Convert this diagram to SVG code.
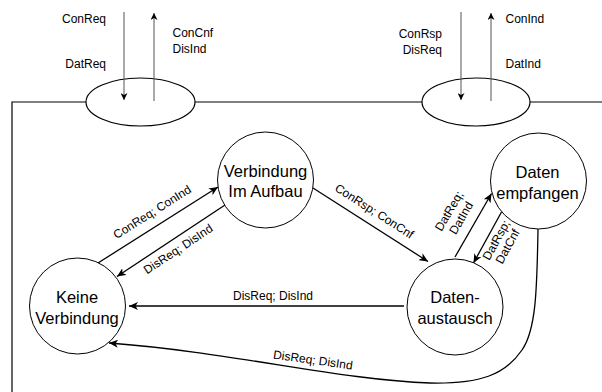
<svg xmlns="http://www.w3.org/2000/svg" width="602" height="392" viewBox="0 0 602 392">
  <defs>
    <marker id="arrow" markerUnits="userSpaceOnUse" markerWidth="10" markerHeight="8" refX="9" refY="4" orient="auto">
      <path d="M0,0 L9,4 L0,8 L2.5,4 Z" fill="#000"/>
    </marker>
    <marker id="arrowSmall" markerUnits="userSpaceOnUse" markerWidth="8" markerHeight="7" refX="7" refY="3.5" orient="auto">
      <path d="M0,0 L7,3.5 L0,7 L2,3.5 Z" fill="#000"/>
    </marker>
    <style>
      .frame { fill: none; stroke: #000; stroke-width: 1.2; }
      .sap { fill: #fff; stroke: #000; stroke-width: 1.2; }
      .prim { fill: none; stroke: #555; stroke-width: 1; marker-end: url(#arrowSmall); }
      .state { fill: #fff; stroke: #000; stroke-width: 1; }
      .edge { fill: none; stroke: #000; stroke-width: 1.3; marker-end: url(#arrow); }
      .lbl { font-family: "Liberation Sans", Arial, sans-serif; font-size: 12px; fill: #000; }
      .name { font-family: "Liberation Sans", Arial, sans-serif; font-size: 16.5px; fill: #000; text-anchor: middle; }
      .mid { text-anchor: middle; }
      .end { text-anchor: end; }
    </style>
  </defs>

  <!-- service boundary with the two access points -->
  <g id="boundary">
    <path class="frame" d="M12,392 L12,102 L602,102"/>
    <ellipse class="sap" cx="140.5" cy="102" rx="54.5" ry="24"/>
    <ellipse class="sap" cx="476" cy="102" rx="54" ry="24"/>
  </g>

  <!-- service primitives crossing the upper interface -->
  <g id="primitives">
    <line class="prim" x1="124" y1="12" x2="124" y2="100"/>
    <line class="prim" x1="154" y1="101" x2="154" y2="13"/>
    <line class="prim" x1="461" y1="12" x2="461" y2="100"/>
    <line class="prim" x1="491" y1="101" x2="491" y2="13"/>
    <text class="lbl end" x="106" y="22.5">ConReq</text>
    <text class="lbl end" x="106" y="68">DatReq</text>
    <text class="lbl" x="172.5" y="37">ConCnf</text>
    <text class="lbl" x="172.5" y="53">DisInd</text>
    <text class="lbl end" x="442" y="38">ConRsp</text>
    <text class="lbl end" x="442" y="53.5">DisReq</text>
    <text class="lbl" x="505.5" y="22.5">ConInd</text>
    <text class="lbl" x="505.5" y="68">DatInd</text>
  </g>

  <!-- transitions -->
  <g id="connectors">
    <path class="edge" d="M98,263 L218,187"/>
    <path class="edge" d="M225,205 L117,276.5"/>
    <path class="edge" d="M313,188 L428,261.5"/>
    <path class="edge" d="M455,257 L491.5,193.5"/>
    <path class="edge" d="M501.5,212 L473.5,263"/>
    <path class="edge" d="M404,306 L129,306"/>
    <path class="edge" d="M538,229 C537,290 536,330 522,350 C505,375 480,384 430,383 C340,380 230,352 109,343"/>

    <text class="lbl mid" transform="translate(159.7,223.9) rotate(-32.3)" x="0" y="-10">ConReq; ConInd</text>
    <text class="lbl mid" transform="translate(172.1,240) rotate(-33.5)" x="0" y="15">DisReq; DisInd</text>
    <text class="lbl mid" transform="translate(367.1,222.6) rotate(32.6)" x="0" y="-9.5">ConRsp; ConCnf</text>
    <g transform="translate(473.3,225.1) rotate(-59.9)">
      <text class="lbl mid" x="0" y="-24">DatReq;</text>
      <text class="lbl mid" x="0" y="-10">DatInd</text>
    </g>
    <g transform="translate(488.4,235.8) rotate(-61.2)">
      <text class="lbl mid" x="0" y="13">DatRsp;</text>
      <text class="lbl mid" x="0" y="26">DatCnf</text>
    </g>
    <text class="lbl mid" x="273" y="300">DisReq; DisInd</text>
    <text class="lbl mid" transform="translate(312.4,364) rotate(8)" x="0" y="0">DisReq; DisInd</text>
  </g>

  <!-- states -->
  <g id="keine-verbindung">
    <circle class="state" cx="77.5" cy="306" r="48"/>
    <text class="name" x="77" y="303">Keine</text>
    <text class="name" x="77" y="323.5">Verbindung</text>
  </g>
  <g id="verbindung-im-aufbau">
    <circle class="state" cx="265.5" cy="180" r="48"/>
    <text class="name" x="265.5" y="177">Verbindung</text>
    <text class="name" x="265.5" y="197">Im Aufbau</text>
  </g>
  <g id="datenaustausch">
    <circle class="state" cx="455" cy="307" r="48"/>
    <text class="name" x="455" y="303">Daten-</text>
    <text class="name" x="455" y="323.5">austausch</text>
  </g>
  <g id="daten-empfangen">
    <circle class="state" cx="538.5" cy="181" r="48"/>
    <text class="name" x="537.5" y="178">Daten</text>
    <text class="name" x="537.5" y="198.5">empfangen</text>
  </g>
</svg>
